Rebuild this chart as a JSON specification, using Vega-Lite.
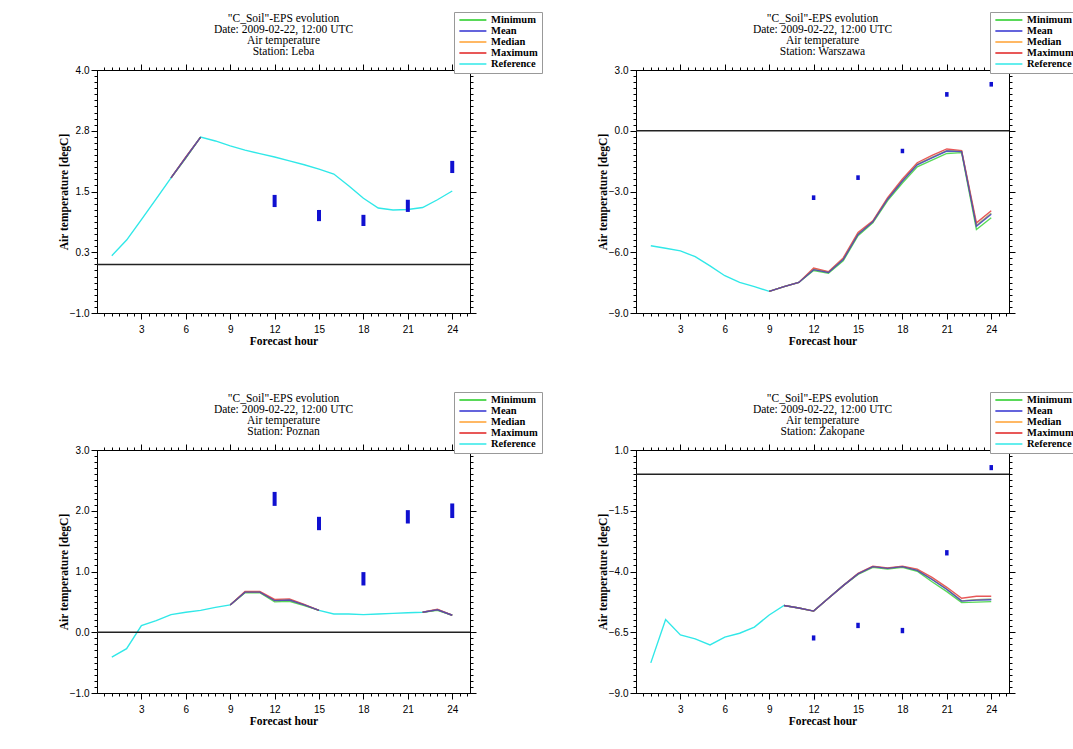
{
  "$schema": "https://vega.github.io/schema/vega-lite/v6.json",
  "padding": {"left": 57, "top": 11, "right": 0, "bottom": 0},
  "background": "white",
  "datasets": {
    "lines": [
      {"s":"Leba","h":1,"Reference":0.18},
      {"s":"Leba","h":2,"Reference":0.5},
      {"s":"Leba","h":3,"Reference":0.92},
      {"s":"Leba","h":4,"Reference":1.35},
      {"s":"Leba","h":5,"Reference":1.78,"Minimum":1.78,"Mean":1.78,"Median":1.78,"Maximum":1.78},
      {"s":"Leba","h":6,"Reference":2.2,"Minimum":2.19,"Mean":2.2,"Median":2.2,"Maximum":2.21},
      {"s":"Leba","h":7,"Reference":2.62,"Minimum":2.62,"Mean":2.62,"Median":2.62,"Maximum":2.62},
      {"s":"Leba","h":8,"Reference":2.54},
      {"s":"Leba","h":9,"Reference":2.44},
      {"s":"Leba","h":10,"Reference":2.35},
      {"s":"Leba","h":11,"Reference":2.28},
      {"s":"Leba","h":12,"Reference":2.21},
      {"s":"Leba","h":13,"Reference":2.13},
      {"s":"Leba","h":14,"Reference":2.05},
      {"s":"Leba","h":15,"Reference":1.96},
      {"s":"Leba","h":16,"Reference":1.86},
      {"s":"Leba","h":17,"Reference":1.62},
      {"s":"Leba","h":18,"Reference":1.36},
      {"s":"Leba","h":19,"Reference":1.16},
      {"s":"Leba","h":20,"Reference":1.12},
      {"s":"Leba","h":21,"Reference":1.13},
      {"s":"Leba","h":22,"Reference":1.17},
      {"s":"Leba","h":23,"Reference":1.33},
      {"s":"Leba","h":24,"Reference":1.51},

      {"s":"Warszawa","h":1,"Reference":-5.68},
      {"s":"Warszawa","h":2,"Reference":-5.8},
      {"s":"Warszawa","h":3,"Reference":-5.93},
      {"s":"Warszawa","h":4,"Reference":-6.22},
      {"s":"Warszawa","h":5,"Reference":-6.67},
      {"s":"Warszawa","h":6,"Reference":-7.16},
      {"s":"Warszawa","h":7,"Reference":-7.49},
      {"s":"Warszawa","h":8,"Reference":-7.7},
      {"s":"Warszawa","h":9,"Reference":-7.93,"Minimum":-7.93,"Mean":-7.93,"Median":-7.93,"Maximum":-7.93},
      {"s":"Warszawa","h":10,"Reference":-7.7,"Minimum":-7.7,"Mean":-7.7,"Median":-7.7,"Maximum":-7.7},
      {"s":"Warszawa","h":11,"Reference":-7.49,"Minimum":-7.49,"Mean":-7.49,"Median":-7.49,"Maximum":-7.49},
      {"s":"Warszawa","h":12,"Reference":-6.84,"Minimum":-6.9,"Mean":-6.86,"Median":-6.84,"Maximum":-6.78},
      {"s":"Warszawa","h":13,"Reference":-6.99,"Minimum":-7.04,"Mean":-7.0,"Median":-6.99,"Maximum":-6.96},
      {"s":"Warszawa","h":14,"Reference":-6.34,"Minimum":-6.42,"Mean":-6.36,"Median":-6.34,"Maximum":-6.28},
      {"s":"Warszawa","h":15,"Reference":-5.1,"Minimum":-5.18,"Mean":-5.12,"Median":-5.1,"Maximum":-5.02},
      {"s":"Warszawa","h":16,"Reference":-4.49,"Minimum":-4.55,"Mean":-4.5,"Median":-4.49,"Maximum":-4.45},
      {"s":"Warszawa","h":17,"Reference":-3.37,"Minimum":-3.45,"Mean":-3.38,"Median":-3.37,"Maximum":-3.3},
      {"s":"Warszawa","h":18,"Reference":-2.47,"Minimum":-2.58,"Mean":-2.48,"Median":-2.47,"Maximum":-2.38},
      {"s":"Warszawa","h":19,"Reference":-1.66,"Minimum":-1.78,"Mean":-1.68,"Median":-1.66,"Maximum":-1.58},
      {"s":"Warszawa","h":20,"Reference":-1.32,"Minimum":-1.45,"Mean":-1.34,"Median":-1.32,"Maximum":-1.22},
      {"s":"Warszawa","h":21,"Reference":-0.98,"Minimum":-1.12,"Mean":-1.0,"Median":-0.98,"Maximum":-0.9},
      {"s":"Warszawa","h":22,"Reference":-1.02,"Minimum":-1.08,"Mean":-1.03,"Median":-1.02,"Maximum":-0.98},
      {"s":"Warszawa","h":23,"Reference":-4.68,"Minimum":-4.88,"Mean":-4.72,"Median":-4.68,"Maximum":-4.55},
      {"s":"Warszawa","h":24,"Reference":-4.08,"Minimum":-4.3,"Mean":-4.12,"Median":-4.08,"Maximum":-3.95},

      {"s":"Poznan","h":1,"Reference":-0.41},
      {"s":"Poznan","h":2,"Reference":-0.27},
      {"s":"Poznan","h":3,"Reference":0.11},
      {"s":"Poznan","h":4,"Reference":0.19},
      {"s":"Poznan","h":5,"Reference":0.29},
      {"s":"Poznan","h":6,"Reference":0.33},
      {"s":"Poznan","h":7,"Reference":0.36},
      {"s":"Poznan","h":8,"Reference":0.41},
      {"s":"Poznan","h":9,"Reference":0.45,"Minimum":0.45,"Mean":0.45,"Median":0.45,"Maximum":0.45},
      {"s":"Poznan","h":10,"Reference":0.66,"Minimum":0.65,"Mean":0.66,"Median":0.66,"Maximum":0.67},
      {"s":"Poznan","h":11,"Reference":0.66,"Minimum":0.65,"Mean":0.66,"Median":0.66,"Maximum":0.67},
      {"s":"Poznan","h":12,"Reference":0.52,"Minimum":0.5,"Mean":0.52,"Median":0.52,"Maximum":0.54},
      {"s":"Poznan","h":13,"Reference":0.53,"Minimum":0.51,"Mean":0.53,"Median":0.53,"Maximum":0.55},
      {"s":"Poznan","h":14,"Reference":0.45,"Minimum":0.44,"Mean":0.45,"Median":0.45,"Maximum":0.46},
      {"s":"Poznan","h":15,"Reference":0.36,"Minimum":0.36,"Mean":0.36,"Median":0.36,"Maximum":0.36},
      {"s":"Poznan","h":16,"Reference":0.3},
      {"s":"Poznan","h":17,"Reference":0.3},
      {"s":"Poznan","h":18,"Reference":0.29},
      {"s":"Poznan","h":19,"Reference":0.3},
      {"s":"Poznan","h":20,"Reference":0.31},
      {"s":"Poznan","h":21,"Reference":0.32},
      {"s":"Poznan","h":22,"Reference":0.33,"Minimum":0.33,"Mean":0.33,"Median":0.33,"Maximum":0.33},
      {"s":"Poznan","h":23,"Reference":0.37,"Minimum":0.36,"Mean":0.37,"Median":0.37,"Maximum":0.38},
      {"s":"Poznan","h":24,"Reference":0.28,"Minimum":0.28,"Mean":0.28,"Median":0.28,"Maximum":0.28},

      {"s":"Zakopane","h":1,"Reference":-7.76},
      {"s":"Zakopane","h":2,"Reference":-5.98},
      {"s":"Zakopane","h":3,"Reference":-6.61},
      {"s":"Zakopane","h":4,"Reference":-6.77},
      {"s":"Zakopane","h":5,"Reference":-7.02},
      {"s":"Zakopane","h":6,"Reference":-6.7},
      {"s":"Zakopane","h":7,"Reference":-6.54},
      {"s":"Zakopane","h":8,"Reference":-6.29},
      {"s":"Zakopane","h":9,"Reference":-5.79},
      {"s":"Zakopane","h":10,"Reference":-5.4,"Minimum":-5.4,"Mean":-5.4,"Median":-5.4,"Maximum":-5.4},
      {"s":"Zakopane","h":11,"Reference":-5.5,"Minimum":-5.5,"Mean":-5.5,"Median":-5.5,"Maximum":-5.5},
      {"s":"Zakopane","h":12,"Reference":-5.63,"Minimum":-5.63,"Mean":-5.63,"Median":-5.63,"Maximum":-5.63},
      {"s":"Zakopane","h":13,"Reference":-5.1,"Minimum":-5.1,"Mean":-5.1,"Median":-5.1,"Maximum":-5.1},
      {"s":"Zakopane","h":14,"Reference":-4.58,"Minimum":-4.58,"Mean":-4.58,"Median":-4.58,"Maximum":-4.58},
      {"s":"Zakopane","h":15,"Reference":-4.1,"Minimum":-4.12,"Mean":-4.1,"Median":-4.1,"Maximum":-4.08},
      {"s":"Zakopane","h":16,"Reference":-3.8,"Minimum":-3.83,"Mean":-3.8,"Median":-3.8,"Maximum":-3.78},
      {"s":"Zakopane","h":17,"Reference":-3.87,"Minimum":-3.9,"Mean":-3.87,"Median":-3.87,"Maximum":-3.85},
      {"s":"Zakopane","h":18,"Reference":-3.8,"Minimum":-3.83,"Mean":-3.8,"Median":-3.8,"Maximum":-3.78},
      {"s":"Zakopane","h":19,"Reference":-3.94,"Minimum":-3.99,"Mean":-3.95,"Median":-3.94,"Maximum":-3.9},
      {"s":"Zakopane","h":20,"Reference":-4.32,"Minimum":-4.42,"Mean":-4.33,"Median":-4.32,"Maximum":-4.24},
      {"s":"Zakopane","h":21,"Reference":-4.72,"Minimum":-4.83,"Mean":-4.74,"Median":-4.72,"Maximum":-4.65},
      {"s":"Zakopane","h":22,"Reference":-5.21,"Minimum":-5.28,"Mean":-5.22,"Median":-5.21,"Maximum":-5.1},
      {"s":"Zakopane","h":23,"Reference":-5.16,"Minimum":-5.26,"Mean":-5.18,"Median":-5.16,"Maximum":-5.02},
      {"s":"Zakopane","h":24,"Reference":-5.14,"Minimum":-5.24,"Mean":-5.16,"Median":-5.14,"Maximum":-5.02}
    ],
    "obs": [
      {"s":"Leba","h":12,"lo":1.18,"hi":1.43},
      {"s":"Leba","h":15,"lo":0.89,"hi":1.12},
      {"s":"Leba","h":18,"lo":0.79,"hi":1.02},
      {"s":"Leba","h":21,"lo":1.08,"hi":1.33},
      {"s":"Leba","h":24,"lo":1.88,"hi":2.13},
      {"s":"Warszawa","h":12,"lo":-3.42,"hi":-3.19},
      {"s":"Warszawa","h":15,"lo":-2.43,"hi":-2.2},
      {"s":"Warszawa","h":18,"lo":-1.11,"hi":-0.89},
      {"s":"Warszawa","h":21,"lo":1.68,"hi":1.91},
      {"s":"Warszawa","h":24,"lo":2.18,"hi":2.41},
      {"s":"Poznan","h":12,"lo":2.08,"hi":2.31},
      {"s":"Poznan","h":15,"lo":1.68,"hi":1.9},
      {"s":"Poznan","h":18,"lo":0.77,"hi":0.99},
      {"s":"Poznan","h":21,"lo":1.79,"hi":2.01},
      {"s":"Poznan","h":24,"lo":1.88,"hi":2.12},
      {"s":"Zakopane","h":12,"lo":-6.84,"hi":-6.63},
      {"s":"Zakopane","h":15,"lo":-6.33,"hi":-6.11},
      {"s":"Zakopane","h":18,"lo":-6.54,"hi":-6.32},
      {"s":"Zakopane","h":21,"lo":-3.34,"hi":-3.12},
      {"s":"Zakopane","h":24,"lo":0.17,"hi":0.38}
    ],
    "zero": [{"z": 0}]
  },
  "vconcat": [
    {
      "hconcat": [
        {
          "width": 373, "height": 243,
          "title": {"text": ["\"C_Soil\"-EPS evolution", "Date: 2009-02-22, 12:00 UTC", "Air temperature", "Station: Leba"]},
          "layer": [
            {
              "data": {"name": "lines"},
              "transform": [{"filter": "datum.s === 'Leba'"}, {"fold": ["Reference", "Minimum", "Maximum", "Median", "Mean"], "as": ["series", "temp"]}],
              "mark": {"type": "line", "strokeWidth": 1.4, "invalid": "break-paths-show-domains"},
              "encoding": {
                "x": {"field": "h", "type": "quantitative", "title": "Forecast hour", "scale": {"domain": [0, 25.2], "nice": false, "zero": false},
                  "axis": {"orient": "bottom", "labelPadding": 5, "titlePadding": 1, "values": [0.5,1,1.5,2,2.5,3,3.5,4,4.5,5,5.5,6,6.5,7,7.5,8,8.5,9,9.5,10,10.5,11,11.5,12,12.5,13,13.5,14,14.5,15,15.5,16,16.5,17,17.5,18,18.5,19,19.5,20,20.5,21,21.5,22,22.5,23,23.5,24,24.5,25],
                    "labelExpr": "indexof([3,6,9,12,15,18,21,24], datum.value) >= 0 ? format(datum.value, '.0f') : ''",
                    "tickSize": {"condition": {"test": "indexof([3,6,9,12,15,18,21,24], datum.value) >= 0", "value": 6}, "value": 3}}},
                "y": {"field": "temp", "type": "quantitative", "title": "Air temperature [degC]", "scale": {"domain": [-1, 4], "nice": false, "zero": false},
                  "axis": {"orient": "left", "format": ".1f", "titlePadding": 0, "values": [-1,-0.875,-0.75,-0.625,-0.5,-0.375,-0.25,-0.125,0,0.125,0.25,0.375,0.5,0.625,0.75,0.875,1,1.125,1.25,1.375,1.5,1.625,1.75,1.875,2,2.125,2.25,2.375,2.5,2.625,2.75,2.875,3,3.125,3.25,3.375,3.5,3.625,3.75,3.875,4],
                    "labelExpr": "indexof([-1,0.25,1.5,2.75,4], datum.value) >= 0 ? datum.label : ''",
                    "tickSize": {"condition": {"test": "indexof([-1,0.25,1.5,2.75,4], datum.value) >= 0", "value": 6}, "value": 3}}},
                "color": {"field": "series", "type": "nominal",
                  "scale": {"domain": ["Minimum", "Mean", "Median", "Maximum", "Reference"], "range": ["#22cc22", "#3030d0", "#ffa030", "#e02020", "#30e8e8"]},
                  "legend": {"legendX": 357, "legendY": -58, "rowPadding": 0, "clipHeight": 9}},
                "strokeOpacity": {"condition": {"test": "datum.series === 'Reference'", "value": 1}, "value": 0.75}
              }
            },
            {
              "data": {"name": "obs"},
              "transform": [{"filter": "datum.s === 'Leba'"}],
              "mark": {"type": "rule", "strokeWidth": 4, "color": "#1010d0"},
              "encoding": {
                "x": {"field": "h", "type": "quantitative",
                  "axis": {"orient": "top", "title": null, "labels": false, "values": [0.5,1,1.5,2,2.5,3,3.5,4,4.5,5,5.5,6,6.5,7,7.5,8,8.5,9,9.5,10,10.5,11,11.5,12,12.5,13,13.5,14,14.5,15,15.5,16,16.5,17,17.5,18,18.5,19,19.5,20,20.5,21,21.5,22,22.5,23,23.5,24,24.5,25],
                    "tickSize": {"condition": {"test": "indexof([3,6,9,12,15,18,21,24], datum.value) >= 0", "value": 6}, "value": 3}}},
                "y": {"field": "lo", "type": "quantitative",
                  "axis": {"orient": "right", "title": null, "labels": false, "values": [-1,-0.875,-0.75,-0.625,-0.5,-0.375,-0.25,-0.125,0,0.125,0.25,0.375,0.5,0.625,0.75,0.875,1,1.125,1.25,1.375,1.5,1.625,1.75,1.875,2,2.125,2.25,2.375,2.5,2.625,2.75,2.875,3,3.125,3.25,3.375,3.5,3.625,3.75,3.875,4],
                    "tickSize": {"condition": {"test": "indexof([-1,0.25,1.5,2.75,4], datum.value) >= 0", "value": 6}, "value": 3}}},
                "y2": {"field": "hi"}
              }
            },
            {
              "data": {"name": "zero"},
              "mark": {"type": "rule", "color": "#222", "strokeWidth": 1.5},
              "encoding": {"y": {"field": "z", "type": "quantitative", "axis": null}}
            }
          ],
          "resolve": {"axis": {"x": "independent", "y": "independent"}}
        },
        {
          "width": 373, "height": 243,
          "title": {"text": ["\"C_Soil\"-EPS evolution", "Date: 2009-02-22, 12:00 UTC", "Air temperature", "Station: Warszawa"]},
          "layer": [
            {
              "data": {"name": "lines"},
              "transform": [{"filter": "datum.s === 'Warszawa'"}, {"fold": ["Reference", "Minimum", "Maximum", "Median", "Mean"], "as": ["series", "temp"]}],
              "mark": {"type": "line", "strokeWidth": 1.4, "invalid": "break-paths-show-domains"},
              "encoding": {
                "x": {"field": "h", "type": "quantitative", "title": "Forecast hour", "scale": {"domain": [0, 25.2], "nice": false, "zero": false},
                  "axis": {"orient": "bottom", "labelPadding": 5, "titlePadding": 1, "values": [0.5,1,1.5,2,2.5,3,3.5,4,4.5,5,5.5,6,6.5,7,7.5,8,8.5,9,9.5,10,10.5,11,11.5,12,12.5,13,13.5,14,14.5,15,15.5,16,16.5,17,17.5,18,18.5,19,19.5,20,20.5,21,21.5,22,22.5,23,23.5,24,24.5,25],
                    "labelExpr": "indexof([3,6,9,12,15,18,21,24], datum.value) >= 0 ? format(datum.value, '.0f') : ''",
                    "tickSize": {"condition": {"test": "indexof([3,6,9,12,15,18,21,24], datum.value) >= 0", "value": 6}, "value": 3}}},
                "y": {"field": "temp", "type": "quantitative", "title": "Air temperature [degC]", "scale": {"domain": [-9, 3], "nice": false, "zero": false},
                  "axis": {"orient": "left", "format": ".1f", "titlePadding": 0, "values": [-9,-8.7,-8.4,-8.1,-7.8,-7.5,-7.2,-6.9,-6.6,-6.3,-6,-5.7,-5.4,-5.1,-4.8,-4.5,-4.2,-3.9,-3.6,-3.3,-3,-2.7,-2.4,-2.1,-1.8,-1.5,-1.2,-0.9,-0.6,-0.3,0,0.3,0.6,0.9,1.2,1.5,1.8,2.1,2.4,2.7,3],
                    "labelExpr": "indexof([-9,-6,-3,0,3], datum.value) >= 0 ? datum.label : ''",
                    "tickSize": {"condition": {"test": "indexof([-9,-6,-3,0,3], datum.value) >= 0", "value": 6}, "value": 3}}},
                "color": {"field": "series", "type": "nominal",
                  "scale": {"domain": ["Minimum", "Mean", "Median", "Maximum", "Reference"], "range": ["#22cc22", "#3030d0", "#ffa030", "#e02020", "#30e8e8"]},
                  "legend": {"legendX": 354, "legendY": -58, "rowPadding": 0, "clipHeight": 9}},
                "strokeOpacity": {"condition": {"test": "datum.series === 'Reference'", "value": 1}, "value": 0.75}
              }
            },
            {
              "data": {"name": "obs"},
              "transform": [{"filter": "datum.s === 'Warszawa'"}],
              "mark": {"type": "rule", "strokeWidth": 3.5, "color": "#1010d0"},
              "encoding": {
                "x": {"field": "h", "type": "quantitative",
                  "axis": {"orient": "top", "title": null, "labels": false, "values": [0.5,1,1.5,2,2.5,3,3.5,4,4.5,5,5.5,6,6.5,7,7.5,8,8.5,9,9.5,10,10.5,11,11.5,12,12.5,13,13.5,14,14.5,15,15.5,16,16.5,17,17.5,18,18.5,19,19.5,20,20.5,21,21.5,22,22.5,23,23.5,24,24.5,25],
                    "tickSize": {"condition": {"test": "indexof([3,6,9,12,15,18,21,24], datum.value) >= 0", "value": 6}, "value": 3}}},
                "y": {"field": "lo", "type": "quantitative",
                  "axis": {"orient": "right", "title": null, "labels": false, "values": [-9,-8.7,-8.4,-8.1,-7.8,-7.5,-7.2,-6.9,-6.6,-6.3,-6,-5.7,-5.4,-5.1,-4.8,-4.5,-4.2,-3.9,-3.6,-3.3,-3,-2.7,-2.4,-2.1,-1.8,-1.5,-1.2,-0.9,-0.6,-0.3,0,0.3,0.6,0.9,1.2,1.5,1.8,2.1,2.4,2.7,3],
                    "tickSize": {"condition": {"test": "indexof([-9,-6,-3,0,3], datum.value) >= 0", "value": 6}, "value": 3}}},
                "y2": {"field": "hi"}
              }
            },
            {
              "data": {"name": "zero"},
              "mark": {"type": "rule", "color": "#222", "strokeWidth": 1.5},
              "encoding": {"y": {"field": "z", "type": "quantitative", "axis": null}}
            }
          ],
          "resolve": {"axis": {"x": "independent", "y": "independent"}}
        }
      ],
      "spacing": 166,
      "bounds": "flush",
      "resolve": {"scale": {"x": "independent", "y": "independent", "color": "independent"}}
    },
    {
      "hconcat": [
        {
          "width": 373, "height": 243,
          "title": {"text": ["\"C_Soil\"-EPS evolution", "Date: 2009-02-22, 12:00 UTC", "Air temperature", "Station: Poznan"]},
          "layer": [
            {
              "data": {"name": "lines"},
              "transform": [{"filter": "datum.s === 'Poznan'"}, {"fold": ["Reference", "Minimum", "Maximum", "Median", "Mean"], "as": ["series", "temp"]}],
              "mark": {"type": "line", "strokeWidth": 1.4, "invalid": "break-paths-show-domains"},
              "encoding": {
                "x": {"field": "h", "type": "quantitative", "title": "Forecast hour", "scale": {"domain": [0, 25.2], "nice": false, "zero": false},
                  "axis": {"orient": "bottom", "labelPadding": 5, "titlePadding": 1, "values": [0.5,1,1.5,2,2.5,3,3.5,4,4.5,5,5.5,6,6.5,7,7.5,8,8.5,9,9.5,10,10.5,11,11.5,12,12.5,13,13.5,14,14.5,15,15.5,16,16.5,17,17.5,18,18.5,19,19.5,20,20.5,21,21.5,22,22.5,23,23.5,24,24.5,25],
                    "labelExpr": "indexof([3,6,9,12,15,18,21,24], datum.value) >= 0 ? format(datum.value, '.0f') : ''",
                    "tickSize": {"condition": {"test": "indexof([3,6,9,12,15,18,21,24], datum.value) >= 0", "value": 6}, "value": 3}}},
                "y": {"field": "temp", "type": "quantitative", "title": "Air temperature [degC]", "scale": {"domain": [-1, 3], "nice": false, "zero": false},
                  "axis": {"orient": "left", "format": ".1f", "titlePadding": 0, "values": [-1,-0.9,-0.8,-0.7,-0.6,-0.5,-0.4,-0.3,-0.2,-0.1,0,0.1,0.2,0.3,0.4,0.5,0.6,0.7,0.8,0.9,1,1.1,1.2,1.3,1.4,1.5,1.6,1.7,1.8,1.9,2,2.1,2.2,2.3,2.4,2.5,2.6,2.7,2.8,2.9,3],
                    "labelExpr": "indexof([-1,0,1,2,3], datum.value) >= 0 ? datum.label : ''",
                    "tickSize": {"condition": {"test": "indexof([-1,0,1,2,3], datum.value) >= 0", "value": 6}, "value": 3}}},
                "color": {"field": "series", "type": "nominal",
                  "scale": {"domain": ["Minimum", "Mean", "Median", "Maximum", "Reference"], "range": ["#22cc22", "#3030d0", "#ffa030", "#e02020", "#30e8e8"]},
                  "legend": {"legendX": 357, "legendY": -58, "rowPadding": 0, "clipHeight": 9}},
                "strokeOpacity": {"condition": {"test": "datum.series === 'Reference'", "value": 1}, "value": 0.75}
              }
            },
            {
              "data": {"name": "obs"},
              "transform": [{"filter": "datum.s === 'Poznan'"}],
              "mark": {"type": "rule", "strokeWidth": 4, "color": "#1010d0"},
              "encoding": {
                "x": {"field": "h", "type": "quantitative",
                  "axis": {"orient": "top", "title": null, "labels": false, "values": [0.5,1,1.5,2,2.5,3,3.5,4,4.5,5,5.5,6,6.5,7,7.5,8,8.5,9,9.5,10,10.5,11,11.5,12,12.5,13,13.5,14,14.5,15,15.5,16,16.5,17,17.5,18,18.5,19,19.5,20,20.5,21,21.5,22,22.5,23,23.5,24,24.5,25],
                    "tickSize": {"condition": {"test": "indexof([3,6,9,12,15,18,21,24], datum.value) >= 0", "value": 6}, "value": 3}}},
                "y": {"field": "lo", "type": "quantitative",
                  "axis": {"orient": "right", "title": null, "labels": false, "values": [-1,-0.9,-0.8,-0.7,-0.6,-0.5,-0.4,-0.3,-0.2,-0.1,0,0.1,0.2,0.3,0.4,0.5,0.6,0.7,0.8,0.9,1,1.1,1.2,1.3,1.4,1.5,1.6,1.7,1.8,1.9,2,2.1,2.2,2.3,2.4,2.5,2.6,2.7,2.8,2.9,3],
                    "tickSize": {"condition": {"test": "indexof([-1,0,1,2,3], datum.value) >= 0", "value": 6}, "value": 3}}},
                "y2": {"field": "hi"}
              }
            },
            {
              "data": {"name": "zero"},
              "mark": {"type": "rule", "color": "#222", "strokeWidth": 1.5},
              "encoding": {"y": {"field": "z", "type": "quantitative", "axis": null}}
            }
          ],
          "resolve": {"axis": {"x": "independent", "y": "independent"}}
        },
        {
          "width": 373, "height": 243,
          "title": {"text": ["\"C_Soil\"-EPS evolution", "Date: 2009-02-22, 12:00 UTC", "Air temperature", "Station: Zakopane"]},
          "layer": [
            {
              "data": {"name": "lines"},
              "transform": [{"filter": "datum.s === 'Zakopane'"}, {"fold": ["Reference", "Minimum", "Maximum", "Median", "Mean"], "as": ["series", "temp"]}],
              "mark": {"type": "line", "strokeWidth": 1.4, "invalid": "break-paths-show-domains"},
              "encoding": {
                "x": {"field": "h", "type": "quantitative", "title": "Forecast hour", "scale": {"domain": [0, 25.2], "nice": false, "zero": false},
                  "axis": {"orient": "bottom", "labelPadding": 5, "titlePadding": 1, "values": [0.5,1,1.5,2,2.5,3,3.5,4,4.5,5,5.5,6,6.5,7,7.5,8,8.5,9,9.5,10,10.5,11,11.5,12,12.5,13,13.5,14,14.5,15,15.5,16,16.5,17,17.5,18,18.5,19,19.5,20,20.5,21,21.5,22,22.5,23,23.5,24,24.5,25],
                    "labelExpr": "indexof([3,6,9,12,15,18,21,24], datum.value) >= 0 ? format(datum.value, '.0f') : ''",
                    "tickSize": {"condition": {"test": "indexof([3,6,9,12,15,18,21,24], datum.value) >= 0", "value": 6}, "value": 3}}},
                "y": {"field": "temp", "type": "quantitative", "title": "Air temperature [degC]", "scale": {"domain": [-9, 1], "nice": false, "zero": false},
                  "axis": {"orient": "left", "format": ".1f", "titlePadding": 0, "values": [-9,-8.75,-8.5,-8.25,-8,-7.75,-7.5,-7.25,-7,-6.75,-6.5,-6.25,-6,-5.75,-5.5,-5.25,-5,-4.75,-4.5,-4.25,-4,-3.75,-3.5,-3.25,-3,-2.75,-2.5,-2.25,-2,-1.75,-1.5,-1.25,-1,-0.75,-0.5,-0.25,0,0.25,0.5,0.75,1],
                    "labelExpr": "indexof([-9,-6.5,-4,-1.5,1], datum.value) >= 0 ? datum.label : ''",
                    "tickSize": {"condition": {"test": "indexof([-9,-6.5,-4,-1.5,1], datum.value) >= 0", "value": 6}, "value": 3}}},
                "color": {"field": "series", "type": "nominal",
                  "scale": {"domain": ["Minimum", "Mean", "Median", "Maximum", "Reference"], "range": ["#22cc22", "#3030d0", "#ffa030", "#e02020", "#30e8e8"]},
                  "legend": {"legendX": 354, "legendY": -58, "rowPadding": 0, "clipHeight": 9}},
                "strokeOpacity": {"condition": {"test": "datum.series === 'Reference'", "value": 1}, "value": 0.75}
              }
            },
            {
              "data": {"name": "obs"},
              "transform": [{"filter": "datum.s === 'Zakopane'"}],
              "mark": {"type": "rule", "strokeWidth": 3.5, "color": "#1010d0"},
              "encoding": {
                "x": {"field": "h", "type": "quantitative",
                  "axis": {"orient": "top", "title": null, "labels": false, "values": [0.5,1,1.5,2,2.5,3,3.5,4,4.5,5,5.5,6,6.5,7,7.5,8,8.5,9,9.5,10,10.5,11,11.5,12,12.5,13,13.5,14,14.5,15,15.5,16,16.5,17,17.5,18,18.5,19,19.5,20,20.5,21,21.5,22,22.5,23,23.5,24,24.5,25],
                    "tickSize": {"condition": {"test": "indexof([3,6,9,12,15,18,21,24], datum.value) >= 0", "value": 6}, "value": 3}}},
                "y": {"field": "lo", "type": "quantitative",
                  "axis": {"orient": "right", "title": null, "labels": false, "values": [-9,-8.75,-8.5,-8.25,-8,-7.75,-7.5,-7.25,-7,-6.75,-6.5,-6.25,-6,-5.75,-5.5,-5.25,-5,-4.75,-4.5,-4.25,-4,-3.75,-3.5,-3.25,-3,-2.75,-2.5,-2.25,-2,-1.75,-1.5,-1.25,-1,-0.75,-0.5,-0.25,0,0.25,0.5,0.75,1],
                    "tickSize": {"condition": {"test": "indexof([-9,-6.5,-4,-1.5,1], datum.value) >= 0", "value": 6}, "value": 3}}},
                "y2": {"field": "hi"}
              }
            },
            {
              "data": {"name": "zero"},
              "mark": {"type": "rule", "color": "#222", "strokeWidth": 1.5},
              "encoding": {"y": {"field": "z", "type": "quantitative", "axis": null}}
            }
          ],
          "resolve": {"axis": {"x": "independent", "y": "independent"}}
        }
      ],
      "spacing": 166,
      "bounds": "flush",
      "resolve": {"scale": {"x": "independent", "y": "independent", "color": "independent"}}
    }
  ],
  "spacing": 380,
  "bounds": "flush",
  "resolve": {"scale": {"x": "independent", "y": "independent", "color": "independent"}},
  "config": {
    "font": "Liberation Serif",
    "view": {"stroke": "#000", "strokeWidth": 1},
    "axis": {"domainColor": "#000", "tickColor": "#000", "tickWidth": 1, "labelFont": "Liberation Sans", "labelFontSize": 10, "labelColor": "#000", "labelPadding": 2, "titleFont": "Liberation Serif", "titleFontSize": 11.5, "titleFontWeight": "bold", "titleColor": "#000", "titlePadding": 3, "grid": false, "labelOverlap": false, "labelFlush": false},
    "legend": {"orient": "none", "title": null, "symbolType": "M-1,0H7", "symbolSize": 45.6, "symbolStrokeWidth": 1.5, "labelFont": "Liberation Serif", "labelFontSize": 10.5, "labelFontWeight": "bold", "labelColor": "#000", "strokeColor": "#999", "fillColor": "#fff", "padding": 3.5, "labelOffset": 23},
    "title": {"font": "Liberation Serif", "fontSize": 11.5, "fontWeight": "normal", "lineHeight": 11, "color": "#000", "anchor": "middle", "offset": -46}
  }
}
